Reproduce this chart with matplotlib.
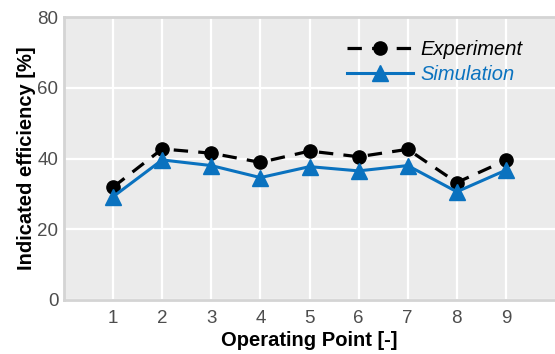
import matplotlib
matplotlib.use("Agg")
import matplotlib.pyplot as plt

plt.rcParams['font.family'] = ['Liberation Sans', 'DejaVu Sans']

points = [1, 2, 3, 4, 5, 6, 7, 8, 9]
experiment = [31.9, 42.7, 41.5, 38.9, 42.1, 40.5, 42.6, 33.2, 39.5]
simulation = [29.2, 39.6, 38.0, 34.6, 37.7, 36.5, 38.0, 30.6, 36.7]
y_ticks = [0, 20, 40, 60, 80]

blue = '#0a72bf'
tick_color = '#4d4d4d'

fig = plt.figure(figsize=(5.55, 3.54), dpi=100)
ax = fig.add_axes([64/555, 1 - 300/354, 1 - 64/555, (300 - 17)/354])
ax.set_facecolor('#ebebeb')

ax.plot(points, experiment, color='black', linestyle=(0, (4.5, 3.2)), linewidth=2.3,
        marker='o', markersize=9.5, label='Experiment', zorder=3)
ax.plot(points, simulation, color=blue, linestyle='-', linewidth=2.2,
        marker='^', markersize=11, label='Simulation', zorder=4)

ax.set_xlim(0, 10)
ax.set_ylim(0, 80)
ax.set_xticks(points)
ax.set_yticks(y_ticks)
ax.grid(True, color='white', linewidth=1.6)
ax.set_axisbelow(True)

for side in ['left', 'bottom', 'top', 'right']:
    ax.spines[side].set_color('#d4d4d4')
    ax.spines[side].set_linewidth(2)
ax.spines['right'].set_visible(False)

ax.tick_params(axis='both', labelcolor=tick_color, labelsize=13.5, length=0)
ax.tick_params(axis='y', pad=4)
ax.tick_params(axis='x', pad=7)

ax.set_xlabel('Operating Point [-]', fontsize=14.5, fontweight='bold', labelpad=3)
ax.set_ylabel('Indicated efficiency [%]', fontsize=14.5, fontweight='bold', labelpad=1)

leg = ax.legend(loc='upper right', bbox_to_anchor=(0.95, 0.947), frameon=False,
                prop={'style': 'italic', 'size': 14.5}, handlelength=3.3,
                handletextpad=0.35, labelspacing=0.3, borderaxespad=0)
for text, color in zip(leg.get_texts(), ['black', blue]):
    text.set_color(color)

fig.savefig('out.png', dpi=100)
